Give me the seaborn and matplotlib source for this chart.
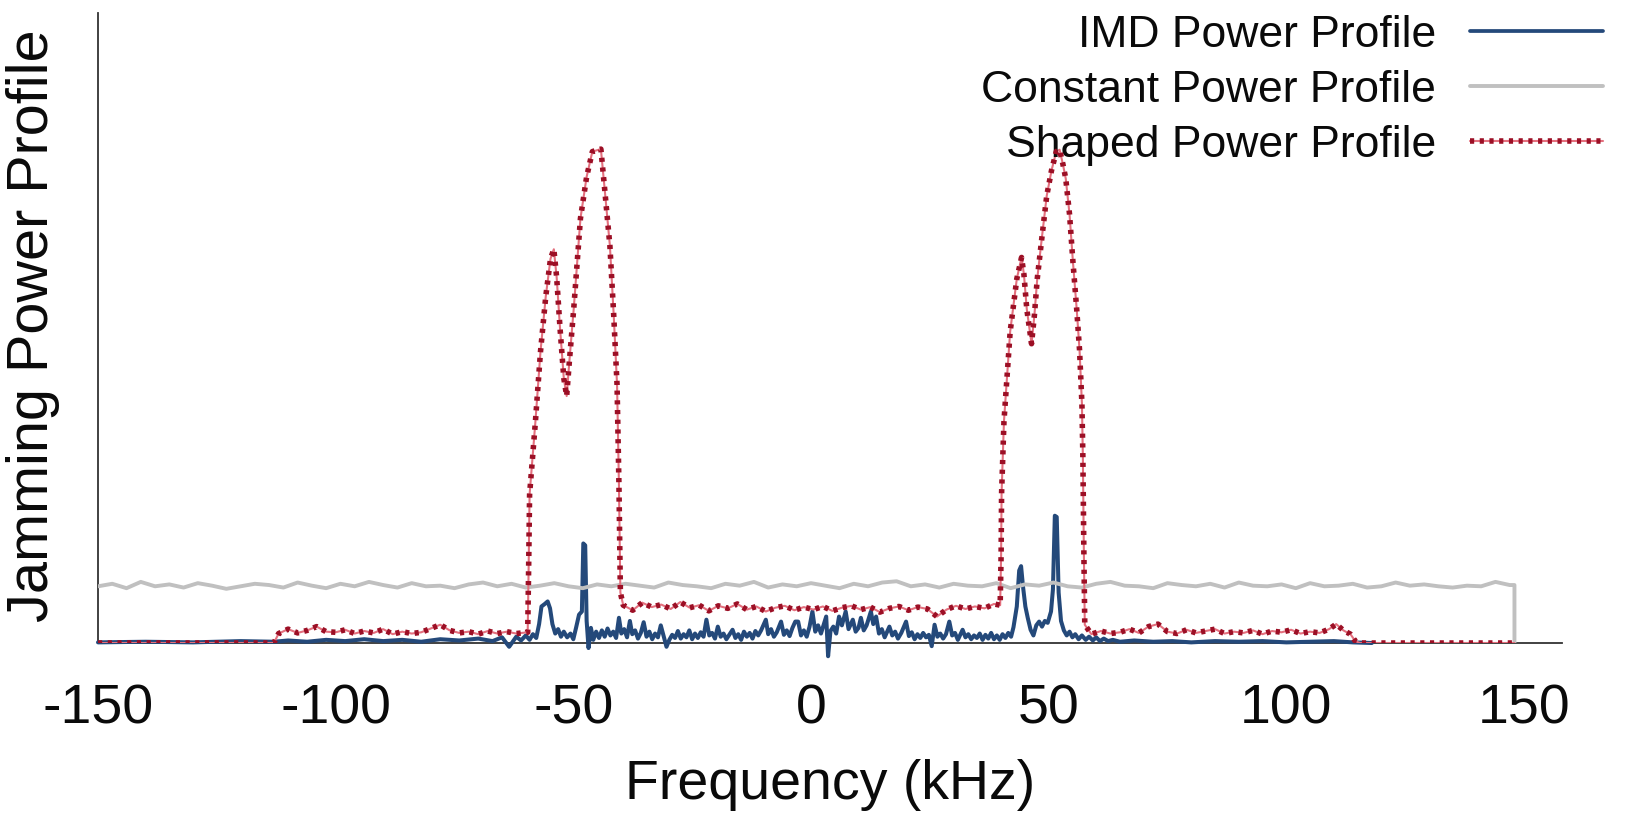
import numpy as np
import matplotlib
matplotlib.use("Agg")
import matplotlib.pyplot as plt
from matplotlib.lines import Line2D
import seaborn as sns

# constant power profile, sampled every 3 kHz from -150 kHz
constant_start, constant_step = -150, 3
constant_power = [
    9.0, 9.4, 8.7, 9.7, 9.0, 9.3, 8.8, 9.5, 9.1, 8.6,
    9.0, 9.4, 9.2, 8.8, 9.6, 9.1, 8.7, 9.4, 9.0, 9.7,
    9.2, 8.8, 9.5, 9.0, 9.1, 8.7, 9.3, 9.6, 9.0, 9.4,
    8.8, 9.1, 9.5, 9.0, 8.7, 9.3, 9.0, 9.4, 9.1, 8.8,
    9.6, 9.2, 9.0, 8.7, 9.4, 9.1, 9.7, 8.8, 9.3, 9.0,
    9.5, 9.1, 8.7, 9.4, 9.0, 9.6, 9.8, 9.0, 9.3, 8.8,
    9.4, 9.1, 9.0, 9.5, 8.7, 9.3, 9.1, 9.6, 9.0, 8.8,
    9.4, 9.7, 9.1, 9.0, 8.7, 9.5, 9.2, 9.0, 9.4, 8.8,
    9.6, 9.1, 9.0, 9.3, 8.7, 9.5, 9.0, 9.1, 9.4, 8.8,
    9.0, 9.6, 9.1, 9.3, 9.0, 8.8, 9.1, 9.0, 9.7, 9.2,
]
constant_end_khz = [148, 148]
constant_end_power = [9.2, 0.0]

# IMD power profile (kHz, power)
imd_points = [
    (-150, 0.1), (-140, 0.2), (-130, 0.1), (-120, 0.3), (-113, 0.2), (-110, 0.4),
    (-106, 0.2), (-102, 0.5), (-98, 0.3), (-94, 0.6), (-90, 0.3), (-86, 0.5),
    (-82, 0.2), (-78, 0.6), (-74, 0.4), (-70, 0.7), (-67, 0.3), (-65, 0.9),
    (-63.5, -0.6), (-62, 1.0), (-61, 0.4), (-60, 1.2), (-59.2, 0.5), (-58.5, 1.4),
    (-57.8, 0.8), (-57.2, 3.0), (-56.7, 5.8), (-56.0, 6.2), (-55.4, 6.6), (-54.9, 5.5),
    (-54.4, 3.0), (-53.8, 1.5), (-53.2, 2.2), (-52.6, 1.0), (-52.0, 1.8), (-51.3, 0.9),
    (-50.6, 1.5), (-50.0, 0.6), (-49.4, 2.5), (-48.8, 4.5), (-48.2, 5.0), (-47.9, 15.8),
    (-47.5, 15.5), (-47.2, 3.5), (-46.8, -0.8), (-46.3, 2.4), (-45.8, 0.5), (-45.2, 1.8),
    (-44.6, 0.8), (-44.0, 2.0), (-43.4, 1.0), (-42.8, 2.3), (-42.2, 1.2), (-41.6, 1.8),
    (-41.0, 0.8), (-40.4, 4.0), (-39.9, 1.5), (-39.3, 2.2), (-38.7, 0.9), (-38.1, 3.5),
    (-37.6, 1.4), (-37.0, 2.0), (-36.4, 0.7), (-35.8, 1.6), (-35.2, 3.3), (-34.6, 1.0),
    (-34.0, 1.8), (-33.4, 0.6), (-32.8, 1.5), (-32.2, 0.9), (-31.6, 2.8), (-31.0, 1.1),
    (-30.4, -0.6), (-29.8, 0.5), (-29.2, 1.3), (-28.6, 0.8), (-28.0, 1.9), (-27.4, 0.7),
    (-26.8, 1.4), (-26.2, 0.9), (-25.6, 2.0), (-25.0, 0.6), (-24.4, 1.5), (-23.8, 0.8),
    (-23.2, 1.7), (-22.6, 1.0), (-22.0, 3.7), (-21.4, 1.2), (-20.8, 1.6), (-20.2, 0.7),
    (-19.6, 2.6), (-19.0, 1.0), (-18.4, 1.5), (-17.8, 0.6), (-17.2, 1.3), (-16.5, 2.1),
    (-15.9, 0.8), (-15.3, 1.4), (-14.7, 0.5), (-14.1, 1.8), (-13.5, 1.0), (-12.9, 1.6),
    (-12.3, 0.7), (-11.7, 1.9), (-11.1, 1.2), (-10.5, 2.0), (-9.5, 3.7), (-9.0, 1.4),
    (-8.4, 2.2), (-7.8, 1.0), (-7.2, 1.7), (-6.3, 3.4), (-5.7, 1.3), (-5.1, 2.0),
    (-4.5, 1.1), (-3.9, 2.4), (-3.3, 3.4), (-2.7, 3.4), (-2.1, 1.2), (-1.5, 2.0),
    (-0.9, 1.0), (-0.3, 2.6), (0.3, 5.0), (0.9, 1.8), (1.5, 2.8), (2.1, 1.5),
    (2.7, 3.0), (3.2, 4.2), (3.6, -2.1), (4.1, 1.9), (4.7, 2.6), (5.3, 1.5),
    (5.9, 4.2), (6.5, 2.8), (7.3, 5.0), (7.9, 2.2), (8.8, 3.7), (9.4, 1.8),
    (10.0, 2.4), (10.5, 4.0), (11.1, 2.0), (11.7, 2.8), (12.6, 5.0), (13.1, 3.0),
    (13.7, 4.2), (14.3, 1.5), (14.9, 2.2), (15.5, 0.9), (16.5, 2.6), (17.1, 1.2),
    (17.7, 1.8), (18.3, 0.7), (19.0, 1.6), (20.0, 3.4), (20.6, 1.1), (21.2, 1.7),
    (21.8, 0.6), (22.4, 1.4), (23.0, 0.8), (23.6, 1.6), (24.2, 0.9), (24.8, 1.3),
    (25.4, -0.5), (26.0, 2.9), (26.6, 1.0), (27.2, 1.5), (27.8, 0.7), (28.4, 1.4),
    (29.1, 3.4), (29.7, 1.2), (30.3, 1.6), (30.9, 0.5), (31.9, 2.1), (32.5, 0.9),
    (33.1, 1.4), (33.7, 0.6), (34.3, 1.2), (34.9, 0.8), (35.5, 1.5), (36.1, 0.5),
    (36.7, 1.3), (37.3, 0.7), (37.9, 1.6), (38.5, 0.6), (39.1, 1.2), (39.7, 0.5),
    (40.3, 1.4), (40.9, 0.8), (41.5, 1.6), (42.1, 1.0), (42.6, 2.5), (43.3, 5.8),
    (43.8, 11.5), (44.2, 12.2), (44.6, 9.0), (45.1, 5.8), (45.6, 4.0), (46.2, 2.1),
    (46.8, 1.2), (47.4, 2.8), (48.0, 3.4), (48.6, 2.6), (49.2, 3.5), (49.8, 3.2),
    (50.5, 5.0), (50.9, 8.5), (51.3, 20.2), (51.7, 20.0), (52.1, 8.0), (52.6, 3.5),
    (53.2, 2.0), (53.8, 1.2), (54.4, 1.8), (55.0, 0.9), (55.6, 1.4), (56.3, 0.6),
    (57.0, 1.2), (57.8, 0.5), (58.5, 1.0), (59.3, 0.4), (60.0, 0.9), (60.8, 0.3),
    (61.6, 0.7), (62.5, 0.3), (63.5, 0.5), (65, 0.2), (68, 0.4), (72, 0.2),
    (76, 0.3), (80, 0.1), (85, 0.3), (90, 0.2), (95, 0.3), (100, 0.1),
    (105, 0.2), (110, 0.3), (114, 0.1), (118, 0.0),
]

# shaped power profile (kHz, power)
shaped_points = [
    (-150, 0.0), (-113, 0.0), (-112, 1.5), (-110, 2.2), (-108, 1.6), (-106, 2.0),
    (-104, 2.6), (-102, 1.8), (-100, 1.7), (-98, 2.1), (-96, 1.5), (-94, 1.9),
    (-92, 1.6), (-90, 2.2), (-88, 1.4), (-86, 1.8), (-84, 1.5), (-82, 1.7),
    (-80, 2.3), (-78, 2.9), (-76, 2.0), (-74, 1.6), (-72, 1.8), (-70, 1.4),
    (-68, 1.9), (-66, 1.5), (-64, 1.8), (-62, 1.5), (-59.6, 1.7),
    (-59.4, 12), (-59.2, 23.6), (-58.0, 34.9), (-56.9, 46.3), (-55.8, 55),
    (-54.8, 61), (-54.1, 62.5), (-53.5, 58), (-52.8, 50), (-52.0, 42), (-51.4, 39.2),
    (-50.8, 45), (-49.9, 53.2), (-48.5, 67.4), (-47.2, 74), (-46.0, 78), (-44.2, 78.4),
    (-43.4, 72), (-42.3, 63), (-41.5, 52), (-40.8, 41), (-40.4, 25), (-40.1, 8),
    (-39.5, 6.0), (-37.5, 5.2), (-35.5, 6.4), (-33.5, 5.7), (-31.5, 6.1), (-29.5, 5.4),
    (-27.5, 6.5), (-25.5, 5.6), (-23.5, 6.0), (-21.5, 5.1), (-19.5, 5.9), (-17.5, 5.5),
    (-15.5, 6.2), (-13.5, 5.3), (-11.5, 5.8), (-9.5, 5.0), (-7.5, 5.6), (-5.5, 5.9),
    (-3.5, 5.2), (-1.5, 5.7), (0.5, 5.3), (2.5, 5.8), (4.5, 5.1), (6.5, 5.6),
    (8.5, 5.9), (10.5, 5.3), (12.5, 5.7), (14.5, 4.9), (16.5, 5.5), (18.5, 5.8),
    (20.5, 5.2), (22.5, 5.7), (24.5, 5.4), (26.5, 4.2), (28.5, 5.3), (30.5, 5.9),
    (32.5, 5.4), (34.5, 5.8), (36.5, 5.5), (38.5, 6.2), (39.8, 6.0),
    (40.0, 14), (40.1, 23.8), (40.6, 35.2), (41.9, 49.4), (43.3, 57.8), (44.3, 61.2),
    (44.8, 58.5), (45.4, 53), (46.4, 47.5), (47.0, 52), (47.6, 57.8), (48.6, 64.5),
    (49.6, 71), (50.6, 75), (51.6, 78.0), (52.3, 78.3), (53.0, 76), (53.6, 73.7),
    (54.4, 68), (55.1, 60.6), (55.9, 53), (56.5, 46.5), (57.0, 38), (57.2, 29.5),
    (57.4, 15), (57.6, 2.9), (59, 1.4), (61, 1.9), (63, 1.5), (65, 1.7),
    (67, 2.2), (69, 1.6), (71, 2.6), (73, 3.0), (75, 1.8), (77, 1.5),
    (79, 2.1), (81, 1.6), (83, 1.9), (85, 2.2), (87, 1.5), (89, 1.8),
    (91, 1.6), (93, 2.0), (95, 1.4), (97, 1.9), (99, 1.7), (101, 2.1),
    (103, 1.5), (105, 1.8), (107, 1.6), (109, 2.2), (110.5, 3.0), (112, 2.0),
    (113.5, 1.4), (114.5, 0.3), (115.5, 0.0), (148, 0.0),
]

x_ticks = [-150, -100, -50, 0, 50, 100, 150]
labels = ["IMD Power Profile", "Constant Power Profile", "Shaped Power Profile"]

imd_color = "#24497a"
constant_color = "#c0c0c0"
shaped_color = "#9c0f25"
shaped_light = "#e4707e"
text_color = "#0a0a0a"
shaped_dash = (0, (0.75, 1.0))

sns.set_theme(style="white")
plt.rcParams["font.family"] = ["Liberation Sans", "DejaVu Sans"]
plt.rcParams["text.color"] = text_color

fig = plt.figure(figsize=(16.35, 8.22), dpi=100)
ax = fig.add_axes([98 / 1635, 179 / 822, 1464 / 1635, 630 / 822])

imd_khz, imd_power = zip(*imd_points)
shaped_khz, shaped_power = zip(*shaped_points)
constant_khz = list(constant_start + constant_step * np.arange(len(constant_power))) + constant_end_khz
constant_all = constant_power + constant_end_power

sns.lineplot(x=list(imd_khz), y=list(imd_power), ax=ax, color=imd_color, lw=2.9,
             sort=False, estimator=None, clip_on=False, zorder=3)
sns.lineplot(x=constant_khz, y=constant_all, ax=ax, color=constant_color, lw=2.8,
             sort=False, estimator=None, zorder=4)
sns.lineplot(x=list(shaped_khz), y=list(shaped_power), ax=ax, color=shaped_light, lw=1.5,
             sort=False, estimator=None, zorder=5)
sns.lineplot(x=list(shaped_khz), y=list(shaped_power), ax=ax, color=shaped_color, lw=4.0,
             linestyle=shaped_dash, sort=False, estimator=None, zorder=6)

ax.set_xlim(-150, 158)
ax.set_ylim(0, 100)
ax.set_xticks(x_ticks)
ax.set_xticklabels([str(t) for t in x_ticks])
ax.set_yticks([])
ax.tick_params(axis="x", length=0, pad=29, labelsize=40, colors=text_color)
ax.set_xlabel("Frequency (kHz)", fontsize=40, labelpad=17, color=text_color)
ax.set_ylabel("Jamming Power Profile", fontsize=41.5, color=text_color)
ax.yaxis.set_label_coords(-0.026, 0.503)

for side in ["top", "right"]:
    ax.spines[side].set_visible(False)
for side in ["left", "bottom"]:
    ax.spines[side].set_color("#333333")
    ax.spines[side].set_linewidth(1.3)

handles = [
    Line2D([], [], color=imd_color, lw=2.7),
    Line2D([], [], color=constant_color, lw=2.8),
    (Line2D([], [], color=shaped_light, lw=1.5),
     Line2D([], [], color=shaped_color, lw=4.0, linestyle=shaped_dash)),
]
leg = ax.legend(handles, labels, loc="upper right", bbox_to_anchor=(1603 / 1635, 1 - 15 / 822),
                bbox_transform=fig.transFigure, frameon=False, markerfirst=False,
                fontsize=32, handlelength=3.0, handletextpad=0.75, labelspacing=0.31,
                borderpad=0, borderaxespad=0)
for t in leg.get_texts():
    t.set_color(text_color)

fig.savefig("out.png", dpi=100)
